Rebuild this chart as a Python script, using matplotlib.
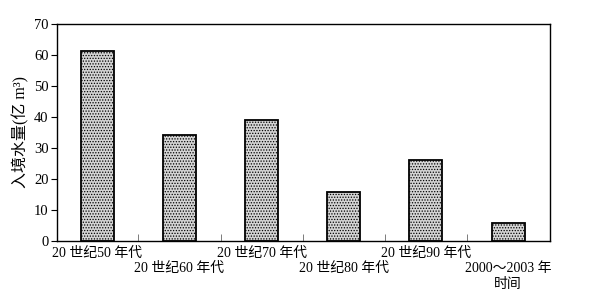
import matplotlib
matplotlib.use("Agg")
import matplotlib.pyplot as plt
import numpy as np

plt.rcParams['font.family'] = ['Liberation Serif', 'Noto Sans CJK SC', 'DejaVu Sans']
plt.rcParams['hatch.color'] = '#707070'
plt.rcParams['hatch.linewidth'] = 0.6

periods = ['20 世纪50 年代', '20 世纪60 年代', '20 世纪70 年代',
           '20 世纪80 年代', '20 世纪90 年代', '2000～2003 年']
inflow = [61.2, 34.3, 39.0, 15.8, 26.2, 5.8]
y_ticks = [0, 10, 20, 30, 40, 50, 60, 70]

fig = plt.figure(figsize=(6.01, 2.95), dpi=100)
ax = fig.add_axes([57 / 601, 54 / 295, 493 / 601, 217 / 295])

x = np.arange(len(periods))
ax.bar(x, inflow, width=0.4, facecolor='#d4d4d4', edgecolor='black',
       linewidth=1.3, hatch='......')

ax.set_xlim(-0.49, len(periods) - 0.49)
ax.set_ylim(0, 70)
ax.set_yticks(y_ticks)
ax.tick_params(axis='y', direction='out', length=4, labelsize=10.5, pad=2)

# labels at bar centres, alternating rows; small tick marks between bars
labels = []
for i, p in enumerate(periods):
    if i % 2 == 1:
        p = '\n' + p
    labels.append(p)
labels[-1] = labels[-1] + '\n时间'
ax.set_xticks(x)
ax.set_xticklabels(labels, fontsize=10, linespacing=1.25)
ax.tick_params(axis='x', which='major', length=0, pad=4)
ax.set_xticks(x[:-1] + 0.5, minor=True)
ax.tick_params(axis='x', which='minor', direction='in', length=5, width=0.6, color='#666666')

ax.set_ylabel('入境水量(亿 m³)', fontsize=11.5, labelpad=3)

for s in ax.spines.values():
    s.set_linewidth(1.0)

fig.savefig('out.png', dpi=100)
